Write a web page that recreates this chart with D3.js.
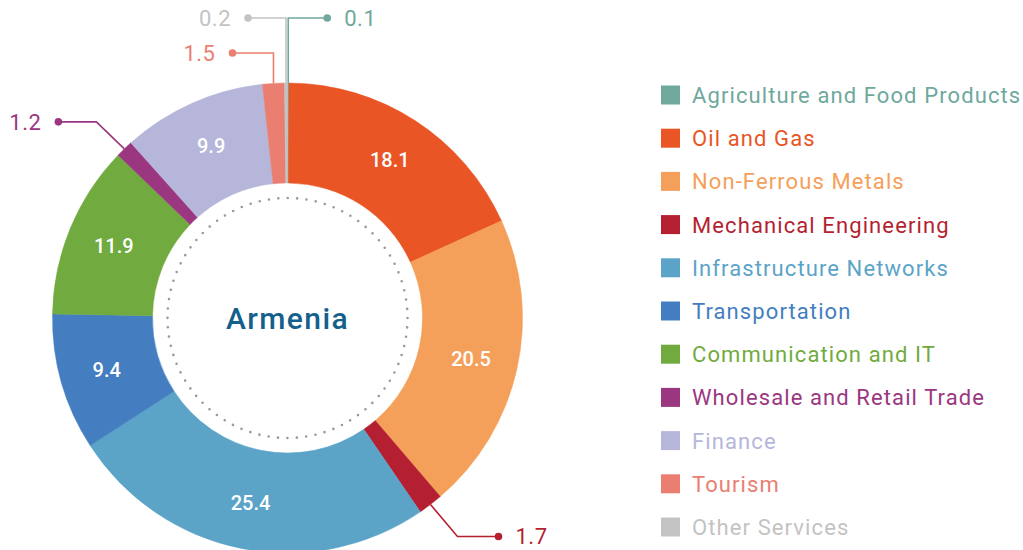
<!DOCTYPE html>
<html>
<head>
<meta charset="utf-8">
<script src="https://cdn.jsdelivr.net/npm/d3@7"></script>
<style>
  body { margin: 0; background: #fff; }
  svg { display: block; font-family: Roboto, "Noto Sans", sans-serif; }
</style>
</head>
<body>
<script>
// Données
const categories = [
  'Agriculture and Food Products', 'Oil and Gas', 'Non-Ferrous Metals',
  'Mechanical Engineering', 'Infrastructure Networks', 'Transportation',
  'Communication and IT', 'Wholesale and Retail Trade', 'Finance',
  'Tourism', 'Other Services'
]
const values = [0.1, 18.1, 20.5, 1.7, 25.4, 9.4, 11.9, 1.2, 9.9, 1.5, 0.2]
const colors = [
  '#6fa89c', '#e95525', '#f5a05a', '#b51f32', '#5ba4c8', '#447ec0',
  '#71ab40', '#9b3680', '#b6b6da', '#ea7e70', '#c3c3c3'
]
const centerLabel = 'Armenia'

// Petites parts annotées à l'extérieur
const callouts = {
  'Agriculture and Food Products': { type: 'up', y: 18, side: 1, len: 39 },
  'Other Services': { type: 'up', y: 18, side: -1, len: 38 },
  'Tourism': { type: 'up', y: 53, side: -1, len: 41 },
  'Wholesale and Retail Trade': { type: 'diag', dx: -28, dy: -27, side: -1, len: 38 },
  'Mechanical Engineering': { type: 'diag', dx: 27, dy: 32, side: 1, len: 41 }
}

const width = 1023, height = 550
const cx = 287.5, cy = 318
const outerR = 235, innerR = 135

const svg = d3.select('body')
  .append('svg')
  .attr('width', width)
  .attr('height', height)

const data = categories.map((c, i) => ({ name: c, value: values[i], color: colors[i] }))

const pie = d3.pie().sort(null).value(d => d.value)
const arcs = pie(data)

const arc = d3.arc().innerRadius(innerR).outerRadius(outerR)
const labelArc = d3.arc().innerRadius(188).outerRadius(188)

const g = svg.append('g').attr('transform', `translate(${cx},${cy})`)

// Parts du donut
g.selectAll('path.slice')
  .data(arcs)
  .enter()
  .append('path')
  .attr('class', 'slice')
  .attr('d', arc)
  .attr('fill', d => d.data.color)
  .attr('stroke', d => d.data.color)
  .attr('stroke-width', 0.5)

// Cercle pointillé intérieur
g.append('circle')
  .attr('r', 120)
  .attr('fill', 'none')
  .attr('stroke', '#9a9a9a')
  .attr('stroke-width', 2.6)
  .attr('stroke-linecap', 'round')
  .attr('stroke-dasharray', '0 ' + (2 * Math.PI * 120 / 80))

g.append('text')
  .text(centerLabel)
  .attr('text-anchor', 'middle')
  .attr('dy', '0.35em')
  .attr('font-size', 30)
  .attr('font-weight', 500)
  .attr('letter-spacing', 1.4)
  .attr('fill', '#155f8c')

// Valeurs dans les grandes parts
g.selectAll('text.val')
  .data(arcs.filter(d => !callouts[d.data.name]))
  .enter()
  .append('text')
  .attr('class', 'val')
  .attr('transform', d => `translate(${labelArc.centroid(d)})`)
  .attr('text-anchor', 'middle')
  .attr('dy', '0.36em')
  .attr('font-size', 20)
  .attr('font-weight', 500)
  .attr('fill', '#fff')
  .text(d => d3.format('.1f')(d.data.value))

// Annotations des petites parts (ordre inverse pour que la première soit au-dessus)
const small = arcs.filter(d => callouts[d.data.name]).reverse()
small.forEach(d => {
  const c = callouts[d.data.name]
  const a = (d.startAngle + d.endAngle) / 2
  const p0 = [outerR * Math.sin(a), -outerR * Math.cos(a)]
  const p1 = c.type === 'up' ? [p0[0], c.y - cy] : [p0[0] + c.dx, p0[1] + c.dy]
  const p2 = [p1[0] + c.side * c.len, p1[1]]

  g.append('path')
    .attr('d', d3.line()([p0, p1, p2]))
    .attr('fill', 'none')
    .attr('stroke', d.data.color)
    .attr('stroke-width', 1.6)

  g.append('circle')
    .attr('cx', p2[0])
    .attr('cy', p2[1])
    .attr('r', 3.8)
    .attr('fill', d.data.color)

  g.append('text')
    .attr('x', p2[0] + c.side * 17)
    .attr('y', p2[1])
    .attr('dy', '0.36em')
    .attr('text-anchor', c.side > 0 ? 'start' : 'end')
    .attr('font-size', 22)
    .attr('font-weight', 400)
    .attr('letter-spacing', 0.5)
    .attr('fill', d.data.color)
    .text(d3.format('.1f')(d.data.value))
})

// Légende
const legendY = d3.scalePoint()
  .domain(categories)
  .range([95, 527])

const legend = svg.append('g')
  .selectAll('g')
  .data(data)
  .enter()
  .append('g')
  .attr('transform', d => `translate(661,${legendY(d.name)})`)

legend.append('rect')
  .attr('x', 0)
  .attr('y', -9.5)
  .attr('width', 19)
  .attr('height', 19)
  .attr('fill', d => d.color)

legend.append('text')
  .attr('x', 31)
  .attr('dy', '0.36em')
  .attr('font-size', 22)
  .attr('font-weight', 400)
  .attr('letter-spacing', 1.1)
  .attr('fill', d => d.color)
  .text(d => d.name)
</script>
</body>
</html>
